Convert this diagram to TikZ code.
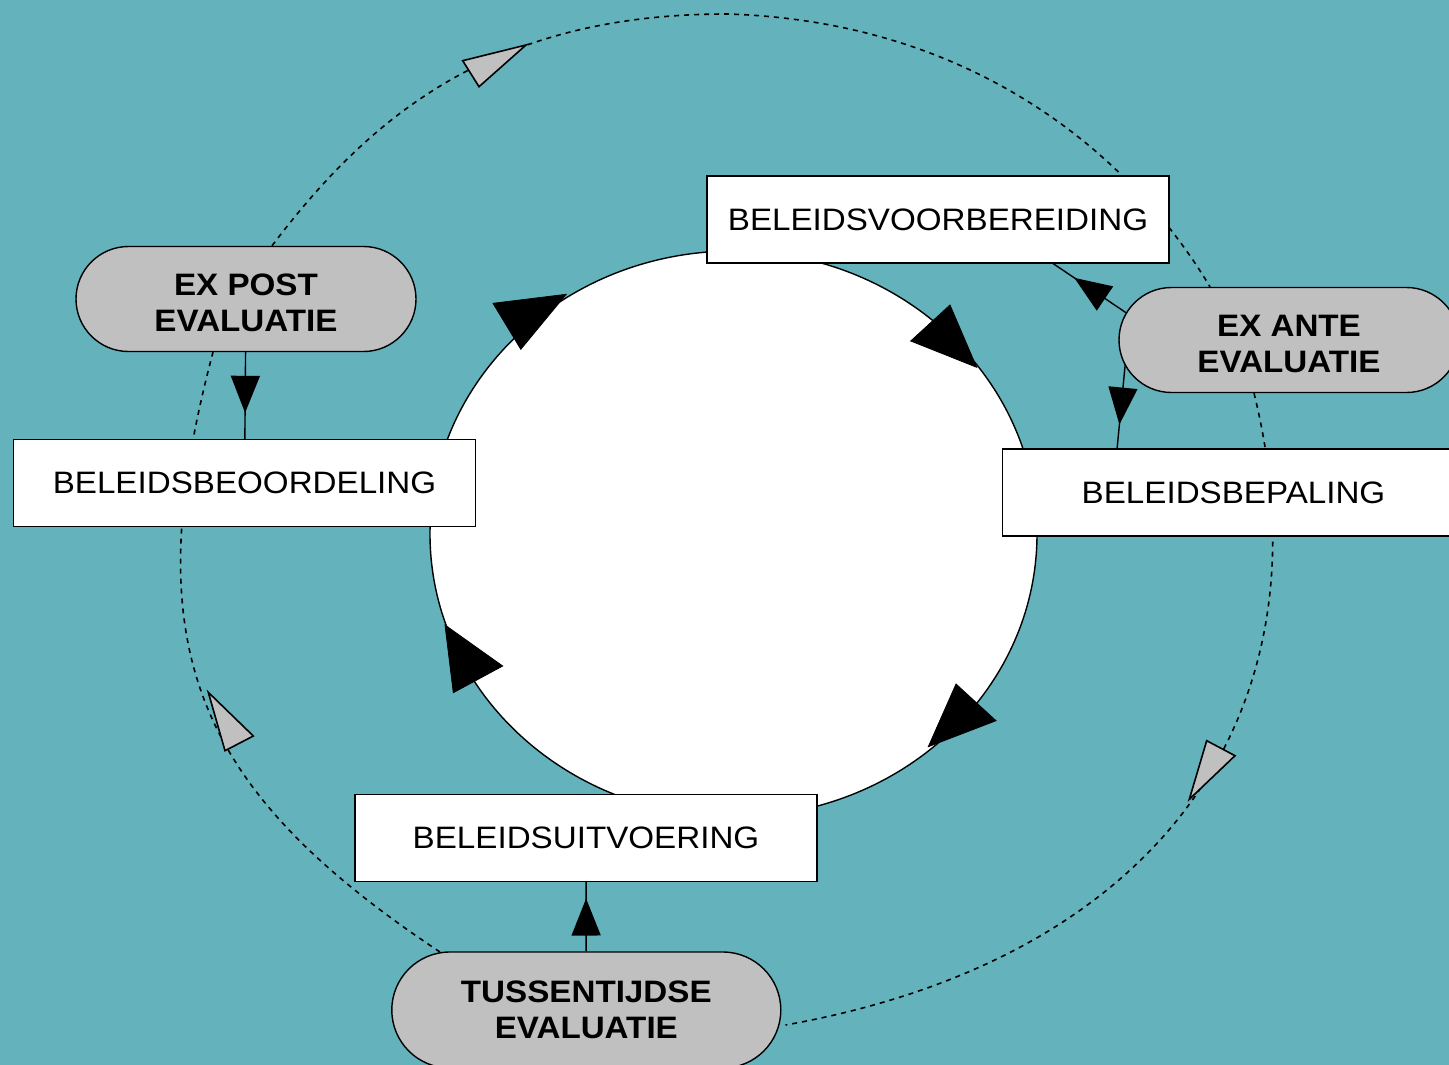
\documentclass[tikz,border=0pt]{standalone}
\usepackage{fontspec}
\newfontfamily\libsans[FakeStretch=1.07]{Liberation Sans}
\usetikzlibrary{shapes.misc,arrows.meta,decorations.markings,calc}
\pgfdeclarelayer{bg}
\pgfdeclarelayer{back}
\pgfsetlayers{bg,back,main}
\definecolor{bgteal}{RGB}{99,178,188}
\definecolor{evalgrey}{RGB}{192,192,192}
\newcommand{\boxfont}{\libsans\fontsize{31pt}{36pt}\selectfont}
\newcommand{\evalfont}{\libsans\bfseries\fontsize{31pt}{36pt}\selectfont}
\begin{document}
\begin{tikzpicture}[x=1pt,y=-1pt,
  box/.style={draw=black, fill=white, line width=1.4pt, minimum width=462pt, minimum height=87pt, inner sep=0pt, font=\boxfont},
  evalnode/.style={rounded rectangle, draw=black, fill=evalgrey, line width=1.4pt, minimum height=105pt, inner sep=0pt, align=center, font=\evalfont},
  lowtext/.style={text height=65.6pt},
  conn/.style={line width=1.4pt},
  dashconn/.style={line width=1.6pt, dash pattern=on 5pt off 5pt},
  midarrow/.style={postaction={decorate}, decoration={markings, mark=at position #1 with {\arrow{Triangle[length=37pt,width=29pt]}}}},
  blackhead/.style={fill=black, draw=black, line width=0.8pt, line join=miter},
  greyhead/.style={fill=evalgrey, draw=black, line width=1.6pt, line join=miter}
]
\begin{pgfonlayer}{bg}
\fill[bgteal] (0,0) rectangle (1449,1065);
\end{pgfonlayer}
\useasboundingbox (0,0) rectangle (1449,1065);

% process boxes
\node[box] (voorb) at (938,219.5) {BELEIDSVOORBEREIDING};
\node[box] (bepal) at (1233.5,492.5) {BELEIDSBEPALING};
\node[box] (uitv) at (586,838) {BELEIDSUITVOERING};
\node[box] (beoord) at (244.5,483) {BELEIDSBEOORDELING};

% evaluation nodes
\node[evalnode, lowtext, minimum width=340pt] (expost) at (246,299) {EX POST\\EVALUATIE};
\node[evalnode, lowtext, minimum width=340pt] (exante) at (1289,340) {EX ANTE\\EVALUATIE};
\node[evalnode, minimum width=389pt, minimum height=116pt] (tussen) at (586.3,1010) {TUSSENTIJDSE\\EVALUATIE};

\coordinate (apex) at (727,14);

\begin{pgfonlayer}{back}
% inner cycle
\draw[line width=1.4pt, fill=white] (733.5,534) ellipse [x radius=303.5pt, y radius=283pt];
\filldraw[blackhead] (566.2,294.3) -- (493,303.3) -- (520.8,349.3) -- cycle;
\filldraw[blackhead] (976.7,367.3) -- (950,305) -- (910.7,341) -- cycle;
\filldraw[blackhead] (928.3,746.7) -- (956,684) -- (996,720.7) -- cycle;
\filldraw[blackhead] (445,625) -- (453.3,692.7) -- (502.7,666) -- cycle;

% outer evaluation cycle (dashed)
\draw[dashconn] ($(tussen.center)+(-146.3,-58)$) .. controls (190,786) and (136,643) .. ($(expost.south)+(-33,0)$);
\draw[dashconn] ($(expost.north)+(26,0)$) .. controls (374,111) and (497,14) .. (apex) .. controls (977,21.5) and (1133,158) .. ($(exante.north)+(-79,0)$);
\draw[dashconn] ($(exante.south)+(-35,0)$) .. controls (1333,713) and (1159,958.5) .. ($(tussen.east)+(4,15)$);
\filldraw[greyhead] (526,45) -- (462.7,60.7) -- (479,86.7) -- cycle;
\filldraw[greyhead] (208.3,692.3) -- (225,750.7) -- (253.3,736) -- cycle;
\filldraw[greyhead] (1189.3,799.3) -- (1206.7,740.7) -- (1235,755.7) -- cycle;

% evaluation connectors
\draw[conn, midarrow=0.70] (expost) -- (beoord);
\draw[conn, midarrow=0.764] (tussen) -- (uitv);
\draw[conn, midarrow=0.712] ($(exante.west)+(7.7,-27.3)$) -- ($(voorb.south)+(115.3,0)$);
\draw[conn, midarrow=0.72] ($(exante.west)+(7,23.3)$) -- ($(bepal.north west)+(115.3,0)$);
\end{pgfonlayer}
\end{tikzpicture}
\end{document}
